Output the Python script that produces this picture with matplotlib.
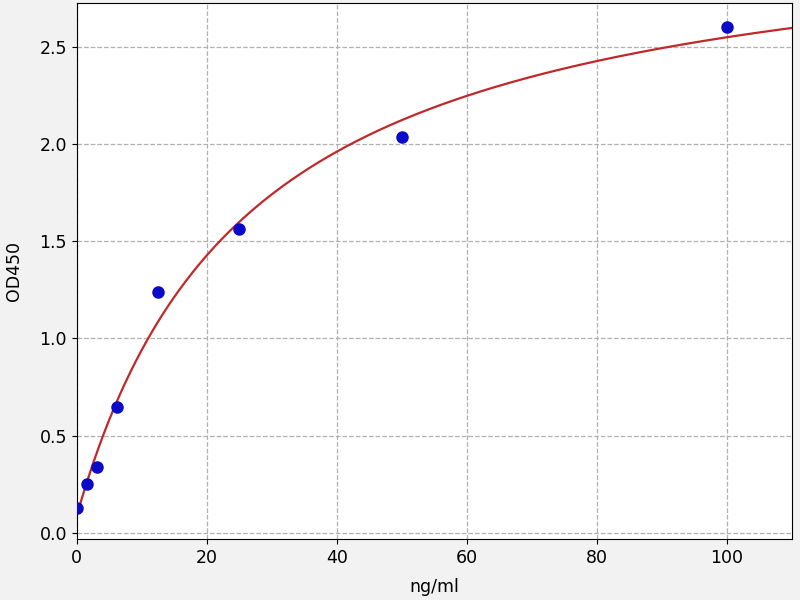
import numpy as np
import matplotlib
matplotlib.use("Agg")
import matplotlib.pyplot as plt

# Standard points.
conc = [0, 1.56, 3.125, 6.25, 12.5, 25, 50, 100]
od450 = [0.13, 0.25, 0.34, 0.65, 1.24, 1.565, 2.035, 2.60]

x = np.array(conc)
y = np.array(od450)

# Four parameter logistic fit: y = d + (a - d) / (1 + (x/c)^b)
# for fixed b, c the model is linear in a and d, so grid search b, c.
best = None
for b in np.linspace(0.6, 1.8, 61):
  for c in np.linspace(5, 150, 291):
    s = 1.0 / (1.0 + (x / c) ** b)
    A = np.column_stack([s, 1 - s])
    coef, _, _, _ = np.linalg.lstsq(A, y, rcond=None)
    err = np.sum((A @ coef - y) ** 2)
    if best is None or err < best[0]:
      best = (err, b, c, coef)
_, b, c, (a, d) = best

xs = np.linspace(0, 110, 400)
ys = d + (a - d) / (1 + (xs / c) ** b)

fig = plt.figure(figsize=(8, 6), dpi=100, facecolor="#f2f2f2")
ax = fig.add_axes([0.096, 0.102, 0.894, 0.893])
ax.set_facecolor("white")
ax.plot(xs, ys, color="#c0282a", linewidth=1.6, zorder=2)
ax.plot(x, y, "o", color="#0a0ac8", markersize=8, zorder=3, clip_on=True)
ax.grid(True, linestyle="--", color="#b0b0b0", linewidth=0.9)
ax.set_axisbelow(True)
ax.set_xlim(0, 110)
ax.set_ylim(-0.03, 2.725)
ax.set_xticks([0, 20, 40, 60, 80, 100])
ax.set_yticks([0.0, 0.5, 1.0, 1.5, 2.0, 2.5])
ax.set_xlabel("ng/ml", fontsize=12.5, labelpad=8)
ax.set_ylabel("OD450", fontsize=12.5, labelpad=12)
ax.tick_params(labelsize=12.5)
fig.savefig("out.png", dpi=100, facecolor=fig.get_facecolor())
